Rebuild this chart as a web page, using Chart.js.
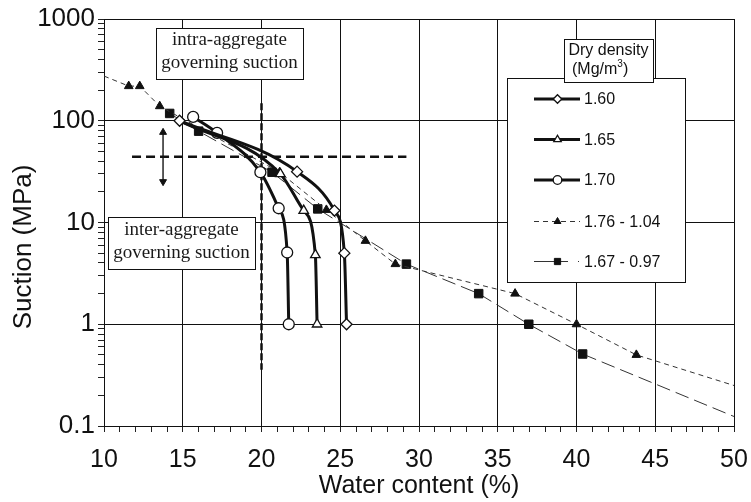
<!DOCTYPE html>
<html>
<head>
<meta charset="utf-8">
<title>Suction vs water content</title>
<script src="https://cdn.jsdelivr.net/npm/chart.js@4.4.1/dist/chart.umd.min.js"></script>
<style>
  html, body { margin: 0; padding: 0; background: #fff; }
  #wrap { width: 751px; height: 502px; }
</style>
</head>
<body>
<div id="wrap"><canvas id="chart" width="751" height="502"></canvas></div>
<script>
(function () {
    // ---------- data ----------
    const xMin = 10, xMax = 50;
    const yDecades = [0.1, 1, 10, 100, 1000];

    // water content (%) and suction (MPa) for each dry density
    const w160 = [14.8, 22.26, 24.63, 25.26, 25.4];
    const s160 = [100, 31.6, 13.1, 5.0, 1.0];
    const w165 = [14.8, 21.2, 22.68, 23.42, 23.53];
    const s165 = [100, 30, 13.1, 4.8, 1.0];
    const w170 = [15.66, 17.18, 19.93, 21.09, 21.63, 21.73];
    const s170 = [109, 76, 31.2, 13.8, 5.07, 1.0];
    // first / last points are only where the drawn line ends
    const w176 = [10, 11.57, 12.27, 13.54, 21.15, 24.12, 26.6, 28.5, 36.1, 40.0, 43.8, 50];
    const s176 = [275, 219, 219, 139, 31.2, 13.3, 6.6, 3.9, 2.0, 1.0, 0.5, 0.25];
    const w167 = [14.17, 16.01, 20.67, 23.57, 29.2, 33.79, 36.97, 40.39, 50];
    const s167 = [118, 79, 31.2, 13.6, 3.9, 2.0, 1.0, 0.51, 0.124];

    // guide lines
    const hGuideW = [11.78, 29.2], hGuideS = [44.4, 44.4];
    const vGuideW = [20, 20], vGuideS = [149, 0.357];
    const arrowW = [13.75, 13.75], arrowS = [76.9, 25.2];

    const INK = '#111';
    const SANS = '"Liberation Sans", Arial, sans-serif';
    const SERIF = '"Liberation Serif", "Times New Roman", serif';

    const pts = (xs, ys) => xs.map((x, i) => ({ x, y: ys[i] }));
    const isDecade = v => Math.abs(Math.log10(v) - Math.round(Math.log10(v))) < 1e-9;
    const hideEnds = (n, r, first, last) => Array.from({ length: n }, (_, i) =>
        (first && i === 0) || (last && i === n - 1) ? 0 : r);

    const thick = (label, xs, ys, style, r, radii) => ({
        label, data: pts(xs, ys), showLine: true,
        borderColor: INK, borderWidth: 3, cubicInterpolationMode: 'monotone',
        pointStyle: style, pointRadius: radii || r, pointBackgroundColor: '#fff',
        pointBorderColor: INK, pointBorderWidth: 1.3
    });

    const datasets = [
        thick('1.60', w160, s160, 'rectRot', 5.5),
        thick('1.65', w165, s165, 'triangle', 5.5, hideEnds(w165.length, 5.5, true, false)),
        thick('1.70', w170, s170, 'circle', 5.5),
        {
            label: '1.76 - 1.04', data: pts(w176, s176), showLine: true,
            borderColor: '#333', borderWidth: 1, borderDash: [5, 4], tension: 0,
            pointStyle: 'triangle', pointRadius: hideEnds(w176.length, 5, true, true),
            pointBackgroundColor: INK, pointBorderColor: INK, pointBorderWidth: 1
        },
        {
            label: '1.67 - 0.97', data: pts(w167, s167), showLine: true,
            borderColor: '#333', borderWidth: 1, borderDash: [14, 6], tension: 0,
            pointStyle: 'rect', pointRadius: hideEnds(w167.length, 6, false, true),
            pointBackgroundColor: INK, pointBorderColor: INK, pointBorderWidth: 1
        },
        {
            label: 'h-guide', data: pts(hGuideW, hGuideS), showLine: true,
            borderColor: INK, borderWidth: 2.5, borderDash: [9, 5], pointRadius: 0
        },
        {
            label: 'v-guide', data: pts(vGuideW, vGuideS), showLine: true,
            borderColor: INK, borderWidth: 2.5, borderDash: [7, 3], pointRadius: 0
        },
        {
            label: 'arrow', data: pts(arrowW, arrowS), showLine: true,
            borderColor: '#444', borderWidth: 1, pointStyle: 'triangle',
            pointRadius: 4, pointRotation: [0, 180],
            pointBackgroundColor: INK, pointBorderColor: INK, pointBorderWidth: 1
        }
    ];

    // ---------- boxes, legend, y title ----------
    function textBox(ctx, x, y, w, h, lines, lineYs) {
        ctx.fillStyle = '#fff';
        ctx.fillRect(x, y, w, h);
        ctx.strokeStyle = INK;
        ctx.lineWidth = 1;
        ctx.strokeRect(x + 0.5, y + 0.5, w, h);
        ctx.fillStyle = '#1a1a1a';
        ctx.font = '19px ' + SERIF;
        ctx.textAlign = 'center';
        ctx.textBaseline = 'middle';
        lines.forEach((t, i) => ctx.fillText(t, x + w / 2, lineYs[i]));
    }

    const legendRows = [
        { ds: 0, y: 99, dash: [], width: 3, r: 4.3 },
        { ds: 1, y: 139.5, dash: [], width: 3, r: 4.3 },
        { ds: 2, y: 180, dash: [], width: 3, r: 4.3 },
        { ds: 3, y: 221.5, dash: [5, 4], width: 1, r: 4 },
        { ds: 4, y: 261.5, dash: [34, 10, 1, 100], width: 1, r: 4.4 }
    ];

    const decor = {
        id: 'decor',
        afterDatasetsDraw(chart) {
            const ctx = chart.ctx;
            ctx.save();
            textBox(ctx, 156, 28, 147, 51, ['intra-aggregate', 'governing suction'], [40, 63]);
            textBox(ctx, 108, 217, 147, 52, ['inter-aggregate', 'governing suction'], [230, 253]);

            // legend frame
            ctx.fillStyle = '#fff';
            ctx.fillRect(507, 78, 178, 204);
            ctx.strokeStyle = INK;
            ctx.lineWidth = 1;
            ctx.strokeRect(507.5, 78.5, 178, 204);
            legendRows.forEach(row => {
                const ds = chart.data.datasets[row.ds];
                ctx.save();
                ctx.strokeStyle = ds.borderColor;
                ctx.lineWidth = row.width;
                ctx.setLineDash(row.dash);
                ctx.beginPath();
                ctx.moveTo(534, row.y);
                ctx.lineTo(580, row.y);
                ctx.stroke();
                ctx.restore();
                ctx.fillStyle = ds.pointBackgroundColor;
                ctx.strokeStyle = ds.pointBorderColor;
                ctx.lineWidth = ds.pointBorderWidth;
                Chart.helpers.drawPoint(ctx, {
                    pointStyle: ds.pointStyle, rotation: 0, radius: row.r, borderWidth: ds.pointBorderWidth
                }, 557.5, row.y);
                ctx.fillStyle = INK;
                ctx.font = '16px ' + SANS;
                ctx.textAlign = 'left';
                ctx.textBaseline = 'middle';
                ctx.fillText(ds.label, 584, row.y + 1);
            });

            // legend title
            ctx.fillStyle = '#fff';
            ctx.fillRect(564, 39, 89, 43);
            ctx.strokeStyle = INK;
            ctx.strokeRect(564.5, 39.5, 89, 43);
            ctx.fillStyle = INK;
            ctx.font = '16px ' + SANS;
            ctx.textAlign = 'center';
            ctx.textBaseline = 'middle';
            ctx.fillText('Dry density', 608.5, 51);
            ctx.textAlign = 'left';
            ctx.fillText('(Mg/m', 572, 70);
            const w1 = ctx.measureText('(Mg/m').width;
            ctx.font = '10px ' + SANS;
            ctx.fillText('3', 572 + w1, 64);
            const w2 = ctx.measureText('3').width;
            ctx.font = '16px ' + SANS;
            ctx.fillText(')', 572 + w1 + w2, 70);

            // y axis title
            ctx.translate(24, 247);
            ctx.rotate(-Math.PI / 2);
            ctx.textAlign = 'center';
            ctx.font = '26px ' + SANS;
            ctx.fillText('Suction (MPa)', 0, 0);
            ctx.restore();
        }
    };

    new Chart(document.getElementById('chart'), {
        type: 'scatter',
        data: { datasets },
        options: {
            responsive: false,
            devicePixelRatio: 1,
            animation: false,
            layout: { padding: { top: 19, right: 17, left: 0, bottom: 0 } },
            plugins: { legend: { display: false }, tooltip: { enabled: false } },
            scales: {
                x: {
                    type: 'linear', min: xMin, max: xMax,
                    ticks: {
                        stepSize: 1, autoSkip: false, maxRotation: 0, padding: 13,
                        color: INK, font: { family: SANS, size: 25 },
                        callback: v => (v % 5 === 0 ? String(v) : '')
                    },
                    grid: {
                        color: c => (c.tick && c.tick.value % 5 === 0 ? INK : 'rgba(0,0,0,0)'),
                        tickColor: '#222', tickLength: 6, lineWidth: 1
                    },
                    border: { color: INK, width: 1 },
                    title: {
                        display: true, text: 'Water content (%)', color: INK,
                        font: { family: SANS, size: 25 }, padding: { top: 0, bottom: 1 }
                    },
                    afterFit(s) { s.height = 76; s.paddingLeft = 0; s.paddingRight = 0; }
                },
                y: {
                    type: 'logarithmic', min: 0.1, max: 1000,
                    afterBuildTicks(s) {
                        const vals = [];
                        yDecades.slice(0, -1).forEach(d => {
                            for (let m = 1; m < 10; m++) vals.push(Number((m * d).toPrecision(3)));
                        });
                        vals.push(yDecades[yDecades.length - 1]);
                        s.ticks = vals.map(value => ({ value }));
                    },
                    ticks: {
                        autoSkip: false, padding: 3, color: INK,
                        font: { family: SANS, size: 26 },
                        callback: v => (isDecade(v) ? String(v) : '')
                    },
                    grid: {
                        color: c => (c.tick && isDecade(c.tick.value) ? INK : 'rgba(0,0,0,0)'),
                        tickColor: '#222', tickLength: 6, lineWidth: 1
                    },
                    border: { color: INK, width: 1 },
                    afterFit(s) { s.width = 104; }
                }
            }
        },
        plugins: [decor]
    });
})();
</script>
</body>
</html>
